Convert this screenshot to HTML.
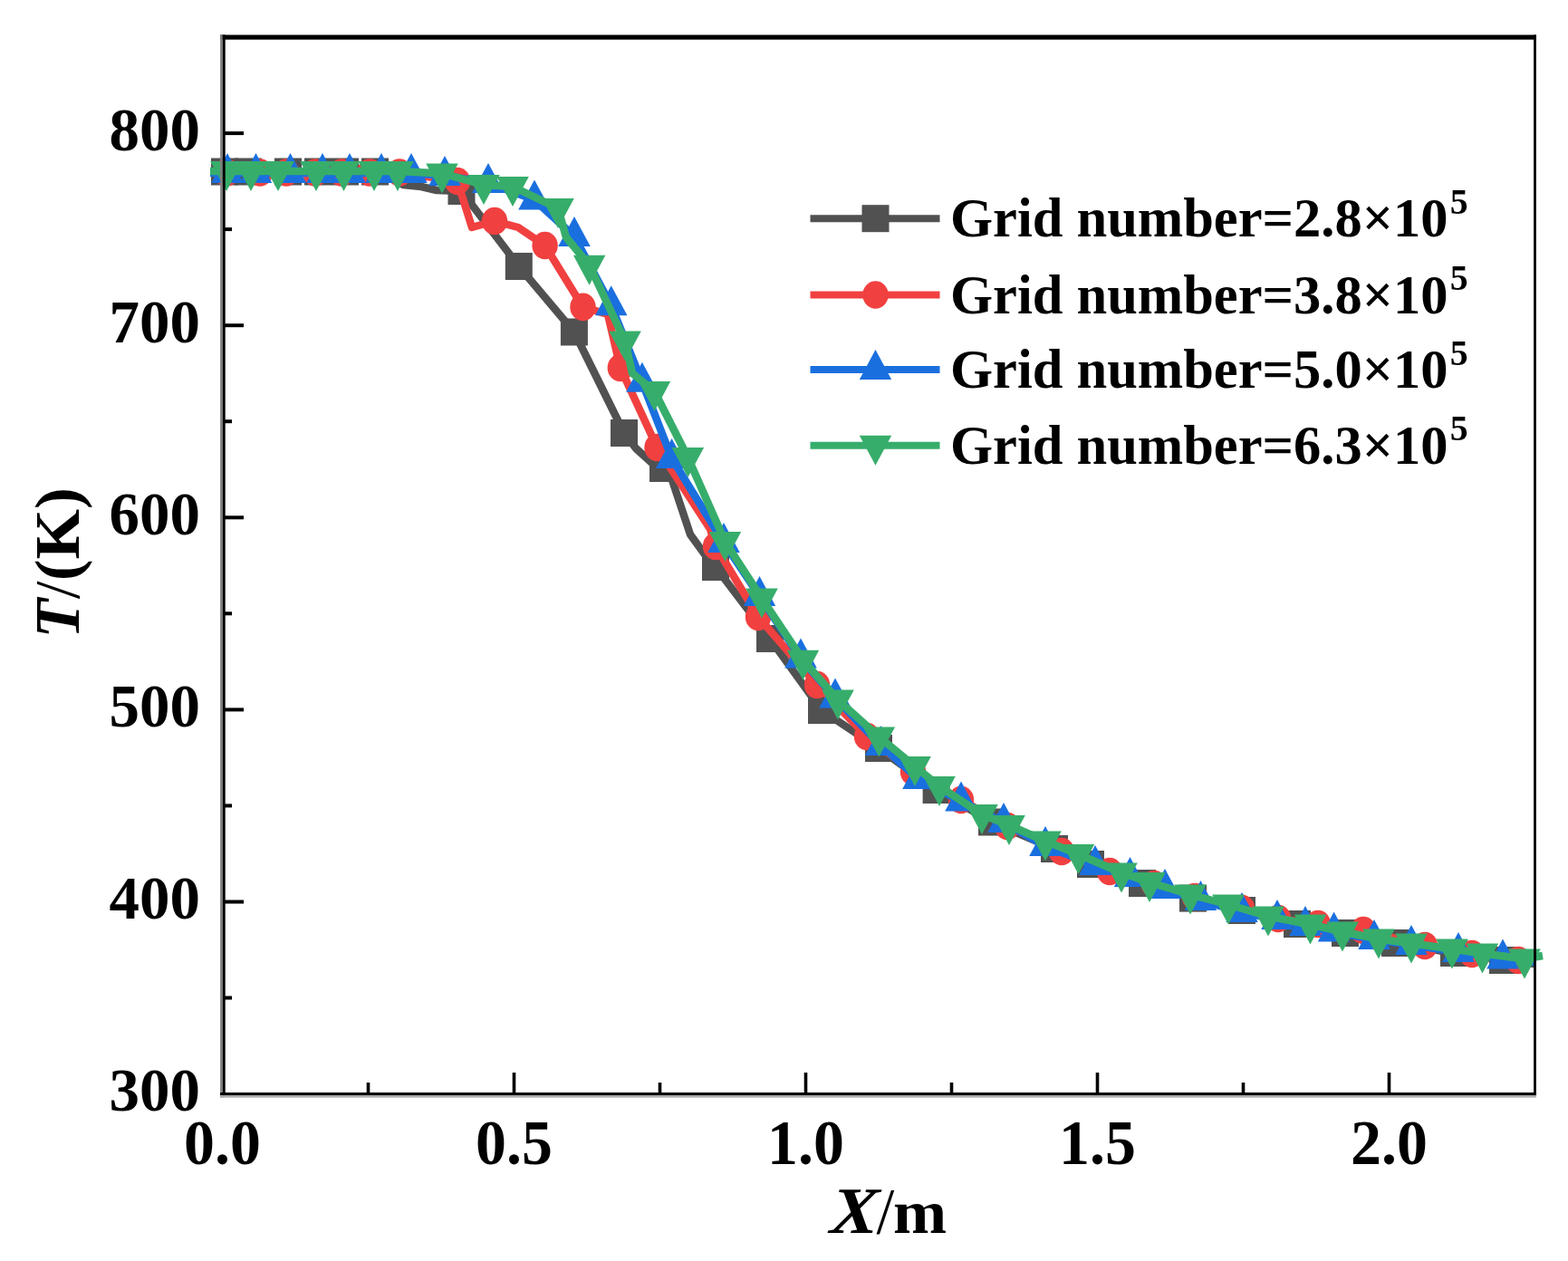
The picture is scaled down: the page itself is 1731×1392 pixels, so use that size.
<!DOCTYPE html>
<html><head><meta charset="utf-8"><title>Temperature vs X</title>
<style>html,body{margin:0;padding:0;background:#fff;width:1731px;height:1392px;overflow:hidden}svg{display:block}</style>
</head><body>
<svg width="1731" height="1392" viewBox="0 0 1731 1392">
<rect width="1731" height="1392" fill="#fff"/>
<g><polyline points="232.0,189.5 425.0,190.0 445.0,204.0 465.0,206.0 482.0,210.0 509.5,211.0 572.8,294.0 633.9,366.5 689.0,478.0 702.0,495.0 723.0,514.0 732.0,517.0 742.0,530.0 762.0,590.0 778.0,612.0 790.0,626.0 850.0,705.0 907.0,784.0 970.0,826.0 1033.6,872.0 1095.0,907.5 1164.0,937.0 1204.0,954.0 1261.0,975.0 1317.0,991.6 1371.0,1005.0 1432.0,1020.0 1485.0,1030.0 1540.0,1041.0 1605.0,1052.0 1659.0,1060.0 1694.0,1064.0" fill="none" stroke="#515151" stroke-width="8.5" stroke-linejoin="round"/>
<rect x="233.0" y="174.5" width="30" height="30" fill="#515151"/>
<rect x="259.0" y="174.5" width="30" height="30" fill="#515151"/>
<rect x="303.0" y="174.5" width="30" height="30" fill="#515151"/>
<rect x="336.0" y="174.5" width="30" height="30" fill="#515151"/>
<rect x="366.0" y="174.5" width="30" height="30" fill="#515151"/>
<rect x="399.0" y="174.5" width="30" height="30" fill="#515151"/>
<rect x="494.5" y="196.0" width="30" height="30" fill="#515151"/>
<rect x="557.8" y="279.0" width="30" height="30" fill="#515151"/>
<rect x="618.9" y="351.5" width="30" height="30" fill="#515151"/>
<rect x="674.0" y="463.0" width="30" height="30" fill="#515151"/>
<rect x="717.0" y="502.0" width="30" height="30" fill="#515151"/>
<rect x="775.0" y="611.0" width="30" height="30" fill="#515151"/>
<rect x="835.0" y="690.0" width="30" height="30" fill="#515151"/>
<rect x="892.0" y="769.0" width="30" height="30" fill="#515151"/>
<rect x="955.0" y="811.0" width="30" height="30" fill="#515151"/>
<rect x="1018.6" y="857.0" width="30" height="30" fill="#515151"/>
<rect x="1080.0" y="892.5" width="30" height="30" fill="#515151"/>
<rect x="1149.0" y="922.0" width="30" height="30" fill="#515151"/>
<rect x="1189.0" y="939.0" width="30" height="30" fill="#515151"/>
<rect x="1246.0" y="960.0" width="30" height="30" fill="#515151"/>
<rect x="1302.0" y="976.6" width="30" height="30" fill="#515151"/>
<rect x="1356.0" y="990.0" width="30" height="30" fill="#515151"/>
<rect x="1417.0" y="1005.0" width="30" height="30" fill="#515151"/>
<rect x="1470.0" y="1015.0" width="30" height="30" fill="#515151"/>
<rect x="1525.0" y="1026.0" width="30" height="30" fill="#515151"/>
<rect x="1590.0" y="1037.0" width="30" height="30" fill="#515151"/>
<rect x="1644.0" y="1045.0" width="30" height="30" fill="#515151"/>
<polyline points="232.0,190.5 445.0,191.0 505.0,200.0 521.0,251.0 546.0,244.0 572.0,251.0 601.6,271.0 643.5,338.9 671.0,347.0 684.8,406.0 725.5,494.0 784.0,584.0 790.0,603.0 837.0,681.0 902.0,756.0 957.0,813.0 1008.0,852.0 1061.0,883.0 1112.0,912.0 1172.0,940.0 1225.0,962.0 1274.0,976.0 1319.0,990.0 1371.0,1003.0 1411.0,1014.0 1455.0,1020.0 1505.0,1027.0 1573.0,1044.0 1625.0,1053.0 1676.0,1060.0 1694.0,1062.0" fill="none" stroke="#F14040" stroke-width="8.5" stroke-linejoin="round"/>
<ellipse cx="250.0" cy="190.5" rx="14.2" ry="15.3" fill="#F14040"/>
<ellipse cx="287.0" cy="190.5" rx="14.2" ry="15.3" fill="#F14040"/>
<ellipse cx="316.0" cy="190.5" rx="14.2" ry="15.3" fill="#F14040"/>
<ellipse cx="348.0" cy="190.5" rx="14.2" ry="15.3" fill="#F14040"/>
<ellipse cx="377.0" cy="190.5" rx="14.2" ry="15.3" fill="#F14040"/>
<ellipse cx="408.0" cy="190.5" rx="14.2" ry="15.3" fill="#F14040"/>
<ellipse cx="441.0" cy="190.5" rx="14.2" ry="15.3" fill="#F14040"/>
<ellipse cx="505.0" cy="200.0" rx="14.2" ry="15.3" fill="#F14040"/>
<ellipse cx="546.0" cy="244.0" rx="14.2" ry="15.3" fill="#F14040"/>
<ellipse cx="601.6" cy="271.0" rx="14.2" ry="15.3" fill="#F14040"/>
<ellipse cx="643.5" cy="338.9" rx="14.2" ry="15.3" fill="#F14040"/>
<ellipse cx="684.8" cy="406.0" rx="14.2" ry="15.3" fill="#F14040"/>
<ellipse cx="725.5" cy="494.0" rx="14.2" ry="15.3" fill="#F14040"/>
<ellipse cx="790.0" cy="603.0" rx="14.2" ry="15.3" fill="#F14040"/>
<ellipse cx="837.0" cy="681.0" rx="14.2" ry="15.3" fill="#F14040"/>
<ellipse cx="902.0" cy="756.0" rx="14.2" ry="15.3" fill="#F14040"/>
<ellipse cx="957.0" cy="813.0" rx="14.2" ry="15.3" fill="#F14040"/>
<ellipse cx="1008.0" cy="852.0" rx="14.2" ry="15.3" fill="#F14040"/>
<ellipse cx="1061.0" cy="883.0" rx="14.2" ry="15.3" fill="#F14040"/>
<ellipse cx="1112.0" cy="912.0" rx="14.2" ry="15.3" fill="#F14040"/>
<ellipse cx="1172.0" cy="940.0" rx="14.2" ry="15.3" fill="#F14040"/>
<ellipse cx="1225.0" cy="962.0" rx="14.2" ry="15.3" fill="#F14040"/>
<ellipse cx="1274.0" cy="976.0" rx="14.2" ry="15.3" fill="#F14040"/>
<ellipse cx="1319.0" cy="990.0" rx="14.2" ry="15.3" fill="#F14040"/>
<ellipse cx="1371.0" cy="1003.0" rx="14.2" ry="15.3" fill="#F14040"/>
<ellipse cx="1411.0" cy="1014.0" rx="14.2" ry="15.3" fill="#F14040"/>
<ellipse cx="1455.0" cy="1020.0" rx="14.2" ry="15.3" fill="#F14040"/>
<ellipse cx="1505.0" cy="1027.0" rx="14.2" ry="15.3" fill="#F14040"/>
<ellipse cx="1573.0" cy="1044.0" rx="14.2" ry="15.3" fill="#F14040"/>
<ellipse cx="1625.0" cy="1053.0" rx="14.2" ry="15.3" fill="#F14040"/>
<ellipse cx="1676.0" cy="1060.0" rx="14.2" ry="15.3" fill="#F14040"/>
<polyline points="232.0,191.0 251.0,191.0 282.5,191.0 320.5,191.0 356.0,191.0 386.0,191.0 421.0,191.0 454.0,191.0 491.0,194.0 539.0,202.0 590.0,220.5 634.0,261.0 674.7,337.3 708.9,421.8 741.6,506.0 799.0,599.0 838.5,658.0 884.0,726.6 922.0,770.4 972.6,823.0 1014.0,860.0 1061.0,884.6 1108.0,908.0 1154.0,934.0 1209.0,955.0 1247.5,968.0 1286.0,981.0 1325.5,994.0 1371.0,1007.0 1410.0,1015.0 1441.0,1022.0 1472.6,1028.6 1517.0,1037.0 1558.0,1043.0 1610.0,1051.0 1659.0,1058.6 1694.0,1062.0" fill="none" stroke="#1A6FDF" stroke-width="8.5" stroke-linejoin="round"/>
<polygon points="251.0,169.0 268.8,202.0 233.2,202.0" fill="#1A6FDF"/>
<polygon points="282.5,169.0 300.2,202.0 264.8,202.0" fill="#1A6FDF"/>
<polygon points="320.5,169.0 338.2,202.0 302.8,202.0" fill="#1A6FDF"/>
<polygon points="356.0,169.0 373.8,202.0 338.2,202.0" fill="#1A6FDF"/>
<polygon points="386.0,169.0 403.8,202.0 368.2,202.0" fill="#1A6FDF"/>
<polygon points="421.0,169.0 438.8,202.0 403.2,202.0" fill="#1A6FDF"/>
<polygon points="454.0,169.0 471.8,202.0 436.2,202.0" fill="#1A6FDF"/>
<polygon points="491.0,172.0 508.8,205.0 473.2,205.0" fill="#1A6FDF"/>
<polygon points="539.0,180.0 556.8,213.0 521.2,213.0" fill="#1A6FDF"/>
<polygon points="590.0,198.5 607.8,231.5 572.2,231.5" fill="#1A6FDF"/>
<polygon points="634.0,239.0 651.8,272.0 616.2,272.0" fill="#1A6FDF"/>
<polygon points="674.7,315.3 692.5,348.3 657.0,348.3" fill="#1A6FDF"/>
<polygon points="708.9,399.8 726.6,432.8 691.1,432.8" fill="#1A6FDF"/>
<polygon points="741.6,484.0 759.4,517.0 723.9,517.0" fill="#1A6FDF"/>
<polygon points="799.0,577.0 816.8,610.0 781.2,610.0" fill="#1A6FDF"/>
<polygon points="838.5,636.0 856.2,669.0 820.8,669.0" fill="#1A6FDF"/>
<polygon points="884.0,704.6 901.8,737.6 866.2,737.6" fill="#1A6FDF"/>
<polygon points="922.0,748.4 939.8,781.4 904.2,781.4" fill="#1A6FDF"/>
<polygon points="972.6,801.0 990.4,834.0 954.9,834.0" fill="#1A6FDF"/>
<polygon points="1014.0,838.0 1031.8,871.0 996.2,871.0" fill="#1A6FDF"/>
<polygon points="1061.0,862.6 1078.8,895.6 1043.2,895.6" fill="#1A6FDF"/>
<polygon points="1108.0,886.0 1125.8,919.0 1090.2,919.0" fill="#1A6FDF"/>
<polygon points="1154.0,912.0 1171.8,945.0 1136.2,945.0" fill="#1A6FDF"/>
<polygon points="1209.0,933.0 1226.8,966.0 1191.2,966.0" fill="#1A6FDF"/>
<polygon points="1247.5,946.0 1265.2,979.0 1229.8,979.0" fill="#1A6FDF"/>
<polygon points="1286.0,959.0 1303.8,992.0 1268.2,992.0" fill="#1A6FDF"/>
<polygon points="1325.5,972.0 1343.2,1005.0 1307.8,1005.0" fill="#1A6FDF"/>
<polygon points="1371.0,985.0 1388.8,1018.0 1353.2,1018.0" fill="#1A6FDF"/>
<polygon points="1410.0,993.0 1427.8,1026.0 1392.2,1026.0" fill="#1A6FDF"/>
<polygon points="1441.0,1000.0 1458.8,1033.0 1423.2,1033.0" fill="#1A6FDF"/>
<polygon points="1472.6,1006.6 1490.3,1039.6 1454.8,1039.6" fill="#1A6FDF"/>
<polygon points="1517.0,1015.0 1534.8,1048.0 1499.2,1048.0" fill="#1A6FDF"/>
<polygon points="1558.0,1021.0 1575.8,1054.0 1540.2,1054.0" fill="#1A6FDF"/>
<polygon points="1610.0,1029.0 1627.8,1062.0 1592.2,1062.0" fill="#1A6FDF"/>
<polygon points="1659.0,1036.6 1676.8,1069.6 1641.2,1069.6" fill="#1A6FDF"/>
<polyline points="232.0,189.0 250.0,189.0 277.0,189.0 307.0,189.0 349.0,189.0 379.5,189.0 413.0,189.0 439.0,189.0 488.0,191.4 534.0,204.0 566.0,206.0 616.0,230.0 625.0,262.0 650.6,292.7 690.0,376.5 698.0,412.0 722.5,432.0 759.4,505.0 800.5,598.0 841.0,660.5 886.5,728.7 925.0,772.6 970.4,813.5 1010.0,846.0 1037.0,868.0 1084.0,899.0 1114.0,911.0 1154.0,928.5 1190.5,943.0 1238.0,963.5 1269.0,974.0 1314.0,987.5 1356.0,998.5 1400.0,1011.5 1446.5,1020.5 1482.0,1028.5 1522.0,1036.5 1558.0,1041.5 1603.0,1047.5 1636.5,1052.5 1683.0,1058.5 1703.0,1055.0" fill="none" stroke="#37AD6B" stroke-width="8.5" stroke-linejoin="round"/>
<polygon points="232.2,178.0 267.8,178.0 250.0,211.0" fill="#37AD6B"/>
<polygon points="259.2,178.0 294.8,178.0 277.0,211.0" fill="#37AD6B"/>
<polygon points="289.2,178.0 324.8,178.0 307.0,211.0" fill="#37AD6B"/>
<polygon points="331.2,178.0 366.8,178.0 349.0,211.0" fill="#37AD6B"/>
<polygon points="361.8,178.0 397.2,178.0 379.5,211.0" fill="#37AD6B"/>
<polygon points="395.2,178.0 430.8,178.0 413.0,211.0" fill="#37AD6B"/>
<polygon points="421.2,178.0 456.8,178.0 439.0,211.0" fill="#37AD6B"/>
<polygon points="470.2,180.4 505.8,180.4 488.0,213.4" fill="#37AD6B"/>
<polygon points="516.2,193.0 551.8,193.0 534.0,226.0" fill="#37AD6B"/>
<polygon points="548.2,195.0 583.8,195.0 566.0,228.0" fill="#37AD6B"/>
<polygon points="598.2,219.0 633.8,219.0 616.0,252.0" fill="#37AD6B"/>
<polygon points="632.9,281.7 668.4,281.7 650.6,314.7" fill="#37AD6B"/>
<polygon points="672.2,365.5 707.8,365.5 690.0,398.5" fill="#37AD6B"/>
<polygon points="704.8,421.0 740.2,421.0 722.5,454.0" fill="#37AD6B"/>
<polygon points="741.6,494.0 777.1,494.0 759.4,527.0" fill="#37AD6B"/>
<polygon points="782.8,587.0 818.2,587.0 800.5,620.0" fill="#37AD6B"/>
<polygon points="823.2,649.5 858.8,649.5 841.0,682.5" fill="#37AD6B"/>
<polygon points="868.8,717.7 904.2,717.7 886.5,750.7" fill="#37AD6B"/>
<polygon points="907.2,761.6 942.8,761.6 925.0,794.6" fill="#37AD6B"/>
<polygon points="952.6,802.5 988.1,802.5 970.4,835.5" fill="#37AD6B"/>
<polygon points="992.2,835.0 1027.8,835.0 1010.0,868.0" fill="#37AD6B"/>
<polygon points="1019.2,857.0 1054.8,857.0 1037.0,890.0" fill="#37AD6B"/>
<polygon points="1066.2,888.0 1101.8,888.0 1084.0,921.0" fill="#37AD6B"/>
<polygon points="1096.2,900.0 1131.8,900.0 1114.0,933.0" fill="#37AD6B"/>
<polygon points="1136.2,917.5 1171.8,917.5 1154.0,950.5" fill="#37AD6B"/>
<polygon points="1172.8,932.0 1208.2,932.0 1190.5,965.0" fill="#37AD6B"/>
<polygon points="1220.2,952.5 1255.8,952.5 1238.0,985.5" fill="#37AD6B"/>
<polygon points="1251.2,963.0 1286.8,963.0 1269.0,996.0" fill="#37AD6B"/>
<polygon points="1296.2,976.5 1331.8,976.5 1314.0,1009.5" fill="#37AD6B"/>
<polygon points="1338.2,987.5 1373.8,987.5 1356.0,1020.5" fill="#37AD6B"/>
<polygon points="1382.2,1000.5 1417.8,1000.5 1400.0,1033.5" fill="#37AD6B"/>
<polygon points="1428.8,1009.5 1464.2,1009.5 1446.5,1042.5" fill="#37AD6B"/>
<polygon points="1464.2,1017.5 1499.8,1017.5 1482.0,1050.5" fill="#37AD6B"/>
<polygon points="1504.2,1025.5 1539.8,1025.5 1522.0,1058.5" fill="#37AD6B"/>
<polygon points="1540.2,1030.5 1575.8,1030.5 1558.0,1063.5" fill="#37AD6B"/>
<polygon points="1585.2,1036.5 1620.8,1036.5 1603.0,1069.5" fill="#37AD6B"/>
<polygon points="1618.8,1041.5 1654.2,1041.5 1636.5,1074.5" fill="#37AD6B"/>
<polygon points="1665.2,1047.5 1700.8,1047.5 1683.0,1080.5" fill="#37AD6B"/>
</g>
<rect x="243.1" y="38.5" width="1452.8" height="5.2" fill="#000"/>
<rect x="1693.1" y="38.5" width="2.8" height="1171" fill="#000"/>
<rect x="243.1" y="38.5" width="2.7" height="1173" fill="#808080"/>
<rect x="245.8" y="38.5" width="2.9" height="1171" fill="#000"/>
<rect x="243.1" y="1206" width="1452.8" height="3" fill="#000"/>
<rect x="243.1" y="1209" width="1452.8" height="2.6" fill="#aaa"/>
<rect x="248" y="1099.5" width="8" height="4" fill="#000"/>
<rect x="248" y="993.5" width="21" height="4" fill="#000"/>
<rect x="248" y="887.4" width="8" height="4" fill="#000"/>
<rect x="248" y="781.4" width="21" height="4" fill="#000"/>
<rect x="248" y="675.3" width="8" height="4" fill="#000"/>
<rect x="248" y="569.3" width="21" height="4" fill="#000"/>
<rect x="248" y="463.2" width="8" height="4" fill="#000"/>
<rect x="248" y="357.2" width="21" height="4" fill="#000"/>
<rect x="248" y="251.1" width="8" height="4" fill="#000"/>
<rect x="248" y="145.1" width="21" height="4" fill="#000"/>
<rect x="404.7" y="1195" width="3.6" height="11" fill="#000"/>
<rect x="565.7" y="1184" width="3.6" height="22" fill="#000"/>
<rect x="726.7" y="1195" width="3.6" height="11" fill="#000"/>
<rect x="887.7" y="1184" width="3.6" height="22" fill="#000"/>
<rect x="1048.7" y="1195" width="3.6" height="11" fill="#000"/>
<rect x="1209.7" y="1184" width="3.6" height="22" fill="#000"/>
<rect x="1370.7" y="1195" width="3.6" height="11" fill="#000"/>
<rect x="1531.7" y="1184" width="3.6" height="22" fill="#000"/>
<text transform="translate(221,1226.1) scale(1.03,1.03)" text-anchor="end" font-size="65" font-family="&quot;Liberation Serif&quot;, &quot;Times New Roman&quot;, serif" font-weight="bold">300</text>
<text transform="translate(221,1014.0) scale(1.03,1.03)" text-anchor="end" font-size="65" font-family="&quot;Liberation Serif&quot;, &quot;Times New Roman&quot;, serif" font-weight="bold">400</text>
<text transform="translate(221,801.9) scale(1.03,1.03)" text-anchor="end" font-size="65" font-family="&quot;Liberation Serif&quot;, &quot;Times New Roman&quot;, serif" font-weight="bold">500</text>
<text transform="translate(221,589.8) scale(1.03,1.03)" text-anchor="end" font-size="65" font-family="&quot;Liberation Serif&quot;, &quot;Times New Roman&quot;, serif" font-weight="bold">600</text>
<text transform="translate(221,377.7) scale(1.03,1.03)" text-anchor="end" font-size="65" font-family="&quot;Liberation Serif&quot;, &quot;Times New Roman&quot;, serif" font-weight="bold">700</text>
<text transform="translate(221,165.6) scale(1.03,1.03)" text-anchor="end" font-size="65" font-family="&quot;Liberation Serif&quot;, &quot;Times New Roman&quot;, serif" font-weight="bold">800</text>
<text transform="translate(245.5,1285) scale(1.045,1.075)" text-anchor="middle" font-size="65" font-family="&quot;Liberation Serif&quot;, &quot;Times New Roman&quot;, serif" font-weight="bold">0.0</text>
<text transform="translate(567.5,1285) scale(1.045,1.075)" text-anchor="middle" font-size="65" font-family="&quot;Liberation Serif&quot;, &quot;Times New Roman&quot;, serif" font-weight="bold">0.5</text>
<text transform="translate(889.5,1285) scale(1.045,1.075)" text-anchor="middle" font-size="65" font-family="&quot;Liberation Serif&quot;, &quot;Times New Roman&quot;, serif" font-weight="bold">1.0</text>
<text transform="translate(1211.5,1285) scale(1.045,1.075)" text-anchor="middle" font-size="65" font-family="&quot;Liberation Serif&quot;, &quot;Times New Roman&quot;, serif" font-weight="bold">1.5</text>
<text transform="translate(1533.5,1285) scale(1.045,1.075)" text-anchor="middle" font-size="65" font-family="&quot;Liberation Serif&quot;, &quot;Times New Roman&quot;, serif" font-weight="bold">2.0</text>
<text transform="translate(915.5,1361) skewX(-4) scale(1.12,1.03)" font-size="71" font-family="&quot;Liberation Serif&quot;, &quot;Times New Roman&quot;, serif" font-weight="bold" font-style="italic">X</text>
<text x="967.5" y="1361" font-size="71" font-family="&quot;Liberation Serif&quot;, &quot;Times New Roman&quot;, serif">/</text>
<text transform="translate(986,1361) scale(1,0.95)" font-size="71" font-family="&quot;Liberation Serif&quot;, &quot;Times New Roman&quot;, serif" font-weight="bold">m</text>
<text transform="translate(86.5,621.5) rotate(-90) scale(1.02,1)" text-anchor="middle" font-size="70" font-family="&quot;Liberation Serif&quot;, &quot;Times New Roman&quot;, serif" font-weight="bold"><tspan font-style="italic">T</tspan><tspan font-weight="normal">/</tspan>(K)</text>
<line x1="894.5" y1="241.2" x2="1037.5" y2="241.2" stroke="#515151" stroke-width="8"/>
<rect x="951.5" y="226.2" width="30" height="30" fill="#515151"/>
<text x="1049" y="261.2" font-size="60.5" font-family="&quot;Liberation Serif&quot;, &quot;Times New Roman&quot;, serif" font-weight="bold">Grid number=2.8×10<tspan font-size="40" dx="2" dy="-25.5">5</tspan></text>
<line x1="894.5" y1="325.5" x2="1037.5" y2="325.5" stroke="#F14040" stroke-width="8"/>
<ellipse cx="966.5" cy="325.5" rx="14.2" ry="15.3" fill="#F14040"/>
<text x="1049" y="345.5" font-size="60.5" font-family="&quot;Liberation Serif&quot;, &quot;Times New Roman&quot;, serif" font-weight="bold">Grid number=3.8×10<tspan font-size="40" dx="2" dy="-25.5">5</tspan></text>
<line x1="894.5" y1="408" x2="1037.5" y2="408" stroke="#1A6FDF" stroke-width="8"/>
<polygon points="966.5,386.0 984.2,419.0 948.8,419.0" fill="#1A6FDF"/>
<text x="1049" y="428.0" font-size="60.5" font-family="&quot;Liberation Serif&quot;, &quot;Times New Roman&quot;, serif" font-weight="bold">Grid number=5.0×10<tspan font-size="40" dx="2" dy="-25.5">5</tspan></text>
<line x1="894.5" y1="491.7" x2="1037.5" y2="491.7" stroke="#37AD6B" stroke-width="8"/>
<polygon points="948.8,480.7 984.2,480.7 966.5,513.7" fill="#37AD6B"/>
<text x="1049" y="511.7" font-size="60.5" font-family="&quot;Liberation Serif&quot;, &quot;Times New Roman&quot;, serif" font-weight="bold">Grid number=6.3×10<tspan font-size="40" dx="2" dy="-25.5">5</tspan></text>
</svg>
</body></html>
